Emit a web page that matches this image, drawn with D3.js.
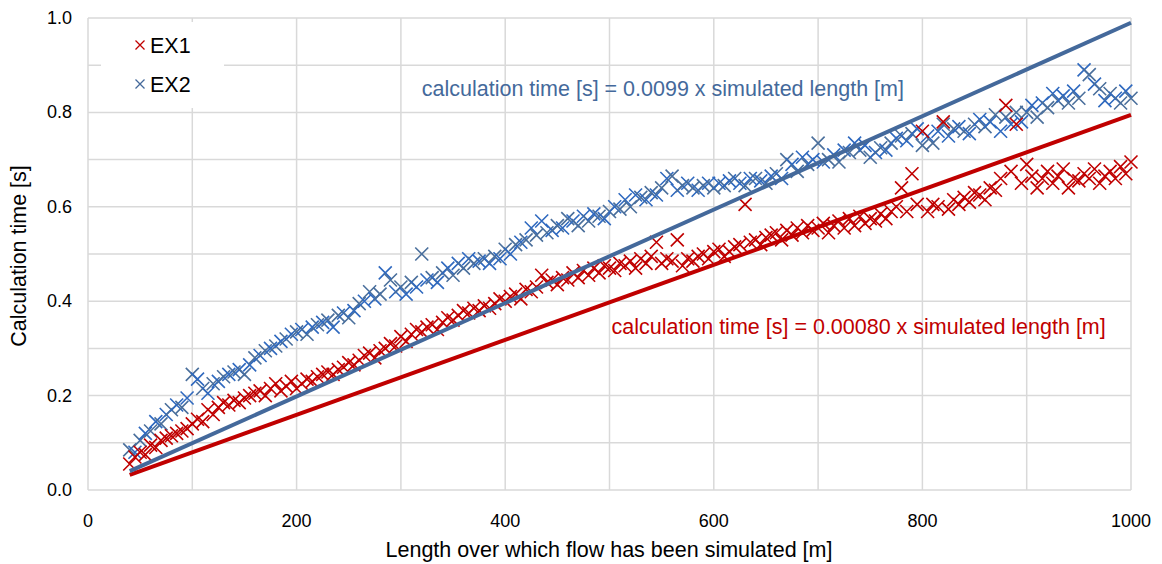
<!DOCTYPE html>
<html>
<head>
<meta charset="utf-8">
<script src="https://cdn.jsdelivr.net/npm/d3@7"></script>
<style>
    body { margin: 0; background: #fff; }
    svg { font-family: "Liberation Sans", Arial, sans-serif; }
    .grid line { stroke: #d9d9d9; stroke-width: 1.5; }
    .tick-label { font-size: 18px; fill: #000; }
    .axis-title { font-size: 21.5px; fill: #000; }
</style>
</head>
<body>
<svg id="plate" width="1162" height="564"></svg>
<script>
// simulated lengths [m]
var lengths = [
    40, 45, 50, 55, 60, 65, 70, 75, 80, 85,
    90, 95, 100, 105, 110, 115, 120, 125, 130, 135,
    140, 145, 150, 155, 160, 165, 170, 175, 180, 185,
    190, 195, 200, 205, 210, 215, 220, 225, 230, 235,
    240, 245, 250, 255, 260, 265, 270, 275, 280, 285,
    290, 295, 300, 305, 310, 315, 320, 325, 330, 335,
    340, 345, 350, 355, 360, 365, 370, 375, 380, 385,
    390, 395, 400, 405, 410, 415, 420, 425, 430, 435,
    440, 445, 450, 455, 460, 465, 470, 475, 480, 485,
    490, 495, 500, 505, 510, 515, 520, 525, 530, 535,
    540, 545, 550, 555, 560, 565, 570, 575, 580, 585,
    590, 595, 600, 605, 610, 615, 620, 625, 630, 635,
    640, 645, 650, 655, 660, 665, 670, 675, 680, 685,
    690, 695, 700, 705, 710, 715, 720, 725, 730, 735,
    740, 745, 750, 755, 760, 765, 770, 775, 780, 785,
    790, 795, 800, 805, 810, 815, 820, 825, 830, 835,
    840, 845, 850, 855, 860, 865, 870, 875, 880, 885,
    890, 895, 900, 905, 910, 915, 920, 925, 930, 935,
    940, 945, 950, 955, 960, 965, 970, 975, 980, 985,
    990, 995, 1000
];

// calculation times [s]
var ex1 = [
    0.055, 0.070, 0.080, 0.075, 0.095, 0.090, 0.105, 0.110, 0.115, 0.120,
    0.125, 0.130, 0.140, 0.150, 0.145, 0.170, 0.160, 0.175, 0.185, 0.180,
    0.190, 0.185, 0.195, 0.200, 0.205, 0.210, 0.200, 0.215, 0.225, 0.210,
    0.220, 0.230, 0.215, 0.225, 0.235, 0.230, 0.240, 0.245, 0.250, 0.245,
    0.255, 0.260, 0.270, 0.265, 0.275, 0.285, 0.290, 0.280, 0.295, 0.300,
    0.310, 0.305, 0.325, 0.315, 0.330, 0.340, 0.335, 0.345, 0.350, 0.340,
    0.355, 0.365, 0.360, 0.370, 0.380, 0.375, 0.385, 0.380, 0.390, 0.385,
    0.395, 0.405, 0.400, 0.410, 0.415, 0.405, 0.425, 0.420, 0.430, 0.455,
    0.440, 0.445, 0.435, 0.450, 0.445, 0.460, 0.450, 0.465, 0.455, 0.470,
    0.460, 0.475, 0.470, 0.465, 0.480, 0.475, 0.485, 0.470, 0.490, 0.480,
    0.495, 0.525, 0.480, 0.490, 0.485, 0.530, 0.475, 0.490, 0.485, 0.495,
    0.500, 0.490, 0.505, 0.510, 0.495, 0.505, 0.515, 0.520, 0.605, 0.525,
    0.530, 0.520, 0.535, 0.540, 0.545, 0.530, 0.550, 0.540, 0.555, 0.545,
    0.560, 0.550, 0.555, 0.565, 0.545, 0.560, 0.570, 0.555, 0.575, 0.560,
    0.580, 0.565, 0.575, 0.570, 0.585, 0.575, 0.590, 0.600, 0.640, 0.590,
    0.670, 0.605, 0.760, 0.590, 0.605, 0.600, 0.780, 0.595, 0.615, 0.605,
    0.620, 0.610, 0.630, 0.625, 0.615, 0.640, 0.635, 0.660, 0.815, 0.675,
    0.775, 0.650, 0.690, 0.665, 0.640, 0.660, 0.675, 0.650, 0.665, 0.680,
    0.640, 0.660, 0.655, 0.670, 0.660, 0.680, 0.650, 0.665, 0.675, 0.660,
    0.685, 0.670, 0.695
];

var ex2 = [
    0.085, 0.080, 0.105, 0.120, 0.125, 0.145, 0.140, 0.160, 0.170, 0.180,
    0.175, 0.195, 0.245, 0.235, 0.215, 0.205, 0.225, 0.230, 0.240, 0.245,
    0.250, 0.255, 0.245, 0.265, 0.280, 0.285, 0.295, 0.300, 0.305, 0.315,
    0.320, 0.330, 0.335, 0.340, 0.330, 0.345, 0.350, 0.355, 0.360, 0.345,
    0.370, 0.375, 0.365, 0.380, 0.395, 0.400, 0.420, 0.405, 0.415, 0.460,
    0.445, 0.420, 0.430, 0.415, 0.440, 0.430, 0.500, 0.445, 0.450, 0.440,
    0.460, 0.470, 0.455, 0.480, 0.470, 0.490, 0.480, 0.485, 0.490, 0.480,
    0.495, 0.490, 0.510, 0.500, 0.520, 0.525, 0.530, 0.555, 0.540, 0.570,
    0.545, 0.550, 0.560, 0.555, 0.575, 0.570, 0.560, 0.580, 0.570, 0.585,
    0.580, 0.575, 0.590, 0.600, 0.595, 0.615, 0.600, 0.625, 0.620, 0.615,
    0.630, 0.625, 0.640, 0.660, 0.665, 0.635, 0.645, 0.650, 0.640, 0.635,
    0.645, 0.650, 0.640, 0.650, 0.645, 0.655, 0.660, 0.650, 0.645, 0.660,
    0.660, 0.655, 0.650, 0.665, 0.670, 0.660, 0.700, 0.690, 0.675, 0.705,
    0.690, 0.700, 0.735, 0.695, 0.700, 0.710, 0.695, 0.720, 0.715, 0.735,
    0.720, 0.730, 0.705, 0.715, 0.725, 0.720, 0.735, 0.745, 0.750, 0.740,
    0.755, 0.765, 0.730, 0.750, 0.735, 0.760, 0.775, 0.750, 0.765, 0.770,
    0.760, 0.755, 0.775, 0.785, 0.770, 0.780, 0.795, 0.760, 0.790, 0.775,
    0.800, 0.780, 0.800, 0.815, 0.790, 0.820, 0.810, 0.840, 0.825, 0.835,
    0.820, 0.845, 0.830, 0.890, 0.880, 0.860, 0.850, 0.825, 0.840, 0.830,
    0.820, 0.845, 0.830
];

// linear fits (end points)
var fitLengths = [40, 1000];
var fitEx1 = [0.032, 0.795];
var fitEx2 = [0.040, 0.990];

var xTicks = [0, 200, 400, 600, 800, 1000];
var yTicks = [0.0, 0.2, 0.4, 0.6, 0.8, 1.0];
var seriesNames = ['EX1', 'EX2'];
var fitLabels = [
    'calculation time [s] = 0.00080 x simulated length [m]',
    'calculation time [s] = 0.0099 x simulated length [m]'
];

var red = '#c00000';
var blueLine = '#44699b';
var blueShades = ['#4a6f9c', '#2f69bf'];

var margin = {top: 18, right: 31, bottom: 74, left: 88};
var width = 1162 - margin.left - margin.right;
var height = 564 - margin.top - margin.bottom;

var x = d3.scaleLinear().domain([0, 1000]).range([0, width]);
var y = d3.scaleLinear().domain([0, 1]).range([height, 0]);

var svg = d3.select('#plate')
    .append('g')
    .attr('transform', 'translate(' + margin.left + ',' + margin.top + ')');

// gridlines
var grid = svg.append('g').attr('class', 'grid');
grid.selectAll('line.v')
    .data(d3.range(0, 1001, 100))
    .enter().append('line')
    .attr('x1', function(d) { return x(d); })
    .attr('x2', function(d) { return x(d); })
    .attr('y1', 0)
    .attr('y2', height);
grid.selectAll('line.h')
    .data(d3.range(0, 11).map(function(i) { return i / 10; }))
    .enter().append('line')
    .attr('x1', 0)
    .attr('x2', width)
    .attr('y1', function(d) { return y(d); })
    .attr('y2', function(d) { return y(d); });

// tick labels
svg.selectAll('text.xt')
    .data(xTicks)
    .enter().append('text')
    .attr('class', 'tick-label')
    .attr('x', function(d) { return x(d); })
    .attr('y', height + 37)
    .attr('text-anchor', 'middle')
    .text(function(d) { return d; });

svg.selectAll('text.yt')
    .data(yTicks)
    .enter().append('text')
    .attr('class', 'tick-label')
    .attr('x', -16)
    .attr('y', function(d) { return y(d) + 6; })
    .attr('text-anchor', 'end')
    .text(function(d) { return d3.format('.1f')(d); });

// axis titles
svg.append('text')
    .attr('class', 'axis-title')
    .attr('x', 521)
    .attr('y', height + 67)
    .attr('text-anchor', 'middle')
    .text('Length over which flow has been simulated [m]');

svg.append('text')
    .attr('class', 'axis-title')
    .attr('transform', 'translate(' + (-62) + ',' + (height / 2 + 2) + ') rotate(-90)')
    .attr('text-anchor', 'middle')
    .text('Calculation time [s]');

function cross(s) {
    return 'M' + (-s) + ',' + (-s) + 'L' + s + ',' + s + 'M' + s + ',' + (-s) + 'L' + (-s) + ',' + s;
}

// EX2 points
svg.append('g').selectAll('path')
    .data(lengths)
    .enter().append('path')
    .attr('d', cross(6.5))
    .attr('transform', function(d, i) { return 'translate(' + x(d) + ',' + y(ex2[i]) + ')'; })
    .attr('stroke', function(d, i) { return blueShades[i % 2]; })
    .attr('stroke-width', 1.6)
    .attr('fill', 'none');

// EX1 points
svg.append('g').selectAll('path')
    .data(lengths)
    .enter().append('path')
    .attr('d', cross(6.5))
    .attr('transform', function(d, i) { return 'translate(' + x(d) + ',' + y(ex1[i]) + ')'; })
    .attr('stroke', red)
    .attr('stroke-width', 1.6)
    .attr('fill', 'none');

// fit lines
var fitLine = function(vals) {
    return d3.line()
        .x(function(d) { return x(d); })
        .y(function(d, i) { return y(vals[i]); })(fitLengths);
};
svg.append('path')
    .attr('d', fitLine(fitEx1))
    .attr('stroke', red)
    .attr('stroke-width', 4)
    .attr('fill', 'none');
svg.append('path')
    .attr('d', fitLine(fitEx2))
    .attr('stroke', blueLine)
    .attr('stroke-width', 4)
    .attr('fill', 'none');

// fit labels
svg.append('text')
    .attr('class', 'axis-title')
    .attr('x', x(502))
    .attr('y', y(0.33))
    .attr('fill', red)
    .style('fill', red)
    .text(fitLabels[0]);
svg.append('text')
    .attr('class', 'axis-title')
    .attr('x', x(320))
    .attr('y', y(0.835))
    .style('fill', blueLine)
    .text(fitLabels[1]);

// legend
var legend = svg.append('g').attr('transform', 'translate(13,4)');
legend.append('rect')
    .attr('width', 123)
    .attr('height', 86)
    .attr('fill', '#fff');
seriesNames.forEach(function(name, i) {
    var row = legend.append('g').attr('transform', 'translate(' + 39 + ',' + (23 + i * 39) + ')');
    row.append('path')
        .attr('d', cross(4.5))
        .attr('stroke', i === 0 ? red : blueLine)
        .attr('stroke-width', 1.3)
        .attr('fill', 'none');
    row.append('text')
        .attr('class', 'axis-title')
        .attr('x', 10)
        .attr('y', 8)
        .text(name);
});
</script>
</body>
</html>
